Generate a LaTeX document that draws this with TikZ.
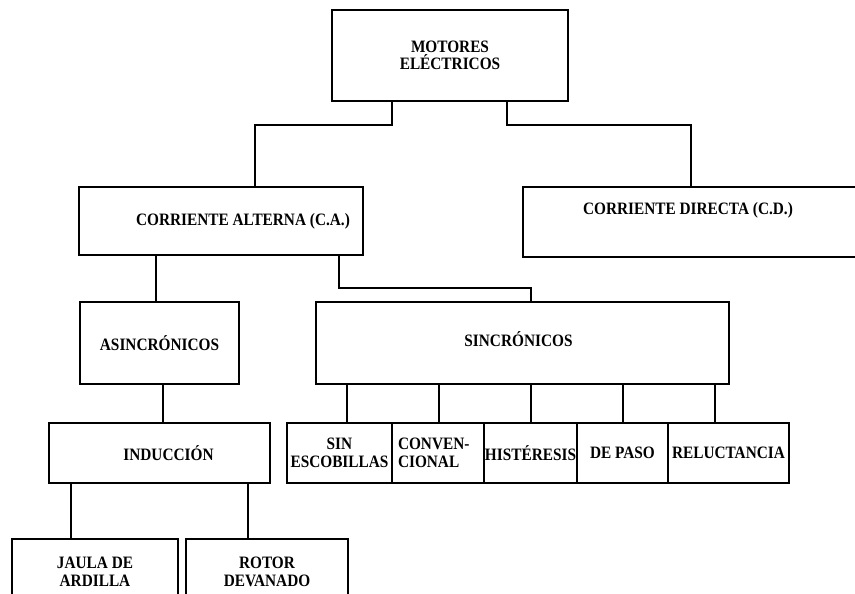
\documentclass[tikz,border=0pt]{standalone}
\usepackage{fontspec}
\setmainfont[FakeStretch=0.88]{Liberation Serif}
\begin{document}
\begin{tikzpicture}[x=1pt, y=-1pt, line width=1.6pt,
  font=\bfseries\fontsize{17.4}{17.5}\selectfont,
  caja/.style={draw, rectangle, inner sep=0pt, align=center}]
  \useasboundingbox (0,0) rectangle (855,594);
  \clip (0,0) rectangle (855,594);
  \node[caja, minimum width=236pt, minimum height=91pt] (mot) at (450,55.5) {MOTORES\\ELÉCTRICOS};
  \node[caja, minimum width=284pt, minimum height=68pt,
    label={[xshift=22pt]center:CORRIENTE ALTERNA (C.A.)}] (ca) at (221,221) {};
  \node[caja, minimum width=400pt, minimum height=70pt,
    label={[xshift=-35pt, yshift=12pt]center:CORRIENTE DIRECTA (C.D.)}] (cd) at (723,222) {};
  \node[caja, minimum width=159pt, minimum height=82pt] (asin) at (159.5,343) {ASINCRÓNICOS};
  \node[caja, minimum width=413pt, minimum height=82pt,
    label={[xshift=-4pt, yshift=4pt]center:SINCRÓNICOS}] (sinc) at (522.5,343) {};
  \node[caja, minimum width=221pt, minimum height=60pt,
    label={[xshift=9pt]center:INDUCCIÓN}] (ind) at (159.5,453) {};
  \node[caja, minimum width=105pt, minimum height=60pt] (sin) at (339.5,453) {SIN\\ESCOBILLAS};
  \node[caja, minimum width=92pt, minimum height=60pt, text width=80pt, align=left] (conv) at (438,453) {CONVEN-\\CIONAL};
  \node[caja, minimum width=93pt, minimum height=60pt] (hist) at (530.5,453) {HISTÉRESIS};
  \node[caja, minimum width=91pt, minimum height=60pt] (paso) at (622.5,453) {DE PASO};
  \node[caja, minimum width=121pt, minimum height=60pt] (rel) at (728.5,453) {RELUCTANCIA};
  \node[caja, minimum width=166pt, minimum height=66pt] (jaula) at (95,572) {JAULA DE\\ARDILLA};
  \node[caja, minimum width=162pt, minimum height=66pt] (rotor) at (267,572) {ROTOR\\DEVANADO};
  \draw ([xshift=-58pt]mot.south) -- ++(0,23) -| ([xshift=34pt]ca.north);
  \draw ([xshift=57pt]mot.south) -- ++(0,23) -| ([xshift=-32pt]cd.north);
  \draw ([xshift=-3.5pt]asin.north) -- ++(0,-47);
  \draw ([xshift=118pt]ca.south) -- ++(0,32) -| ([xshift=8.5pt]sinc.north);
  \draw ([xshift=3.5pt]asin.south) -- ++(0,39);
  \foreach \n/\d in {sin/7.5, conv/1, hist/0.5, paso/0.5, rel/-13.5}
    \draw ([xshift=\d pt]\n.north) -- ++(0,-39);
  \draw ([xshift=-24pt]jaula.north) -- ++(0,-56);
  \draw ([xshift=-19pt]rotor.north) -- ++(0,-56);
\end{tikzpicture}
\end{document}
